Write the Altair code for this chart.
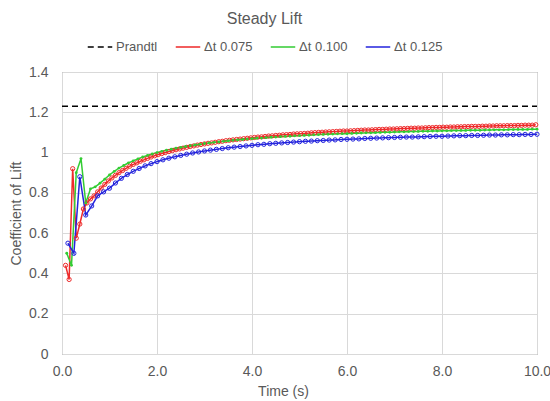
import altair as alt
import pandas as pd

# ---- data ----
prandtl_value = 1.23
x_range = [0.0, 10.0]

dt_red = 0.075
red_vals = [0.44, 0.37, 0.92, 0.575, 0.645, 0.72, 0.75, 0.77, 0.785, 0.805,
            0.824, 0.842, 0.859, 0.874, 0.887, 0.900, 0.911, 0.922, 0.932, 0.941,
            0.949, 0.957, 0.964, 0.971, 0.978, 0.984, 0.990, 0.995, 1.000, 1.005,
            1.010, 1.014, 1.018, 1.022, 1.026, 1.030, 1.033, 1.037, 1.040, 1.043,
            1.046, 1.048, 1.051, 1.054, 1.056, 1.059, 1.061, 1.063, 1.065, 1.067,
            1.069, 1.071, 1.073, 1.075, 1.077, 1.078, 1.080, 1.082, 1.083, 1.085,
            1.086, 1.088, 1.089, 1.090, 1.092, 1.093, 1.094, 1.095, 1.096, 1.098,
            1.099, 1.100, 1.101, 1.102, 1.103, 1.104, 1.105, 1.106, 1.107, 1.107,
            1.108, 1.109, 1.110, 1.111, 1.112, 1.112, 1.113, 1.114, 1.115, 1.115,
            1.116, 1.117, 1.117, 1.118, 1.119, 1.119, 1.120, 1.121, 1.121, 1.122,
            1.122, 1.123, 1.124, 1.124, 1.125, 1.125, 1.126, 1.126, 1.127, 1.127,
            1.128, 1.128, 1.129, 1.129, 1.130, 1.130, 1.130, 1.131, 1.131, 1.132,
            1.132, 1.133, 1.133, 1.133, 1.134, 1.134, 1.134, 1.135, 1.135, 1.136,
            1.136, 1.136, 1.138]

dt_green = 0.100
green_vals = [0.50, 0.44, 0.90, 0.97, 0.75, 0.82, 0.83, 0.848, 0.868, 0.889,
              0.907, 0.923, 0.936, 0.949, 0.959, 0.969, 0.978, 0.986, 0.993, 1.000,
              1.006, 1.012, 1.017, 1.022, 1.026, 1.030, 1.034, 1.038, 1.041, 1.045,
              1.048, 1.051, 1.053, 1.056, 1.058, 1.061, 1.063, 1.065, 1.067, 1.069,
              1.071, 1.072, 1.074, 1.076, 1.077, 1.079, 1.080, 1.081, 1.083, 1.084,
              1.085, 1.086, 1.088, 1.089, 1.090, 1.091, 1.092, 1.093, 1.094, 1.094,
              1.095, 1.096, 1.097, 1.098, 1.098, 1.099, 1.100, 1.101, 1.101, 1.102,
              1.103, 1.103, 1.104, 1.104, 1.105, 1.106, 1.106, 1.107, 1.107, 1.108,
              1.108, 1.109, 1.109, 1.110, 1.110, 1.111, 1.111, 1.111, 1.112, 1.112,
              1.113, 1.113, 1.113, 1.114, 1.114, 1.115, 1.115, 1.115, 1.116, 1.116]

dt_blue = 0.125
blue_vals = [0.55, 0.50, 0.88, 0.69, 0.735, 0.785, 0.805, 0.823, 0.849, 0.872,
             0.891, 0.907, 0.921, 0.934, 0.945, 0.955, 0.964, 0.972, 0.979, 0.986,
             0.992, 0.998, 1.003, 1.008, 1.012, 1.016, 1.020, 1.024, 1.027, 1.030,
             1.033, 1.036, 1.039, 1.041, 1.044, 1.046, 1.048, 1.050, 1.052, 1.054,
             1.056, 1.057, 1.059, 1.060, 1.062, 1.063, 1.065, 1.066, 1.067, 1.068,
             1.070, 1.071, 1.072, 1.073, 1.074, 1.075, 1.076, 1.077, 1.077, 1.078,
             1.079, 1.080, 1.081, 1.081, 1.082, 1.083, 1.084, 1.084, 1.085, 1.085,
             1.086, 1.087, 1.087, 1.088, 1.088, 1.089, 1.089, 1.090, 1.090, 1.091]

series_names = ["Prandtl", "\u0394t 0.075", "\u0394t 0.100", "\u0394t 0.125"]
series_colors = ["#000000", "#ee2a2a", "#33cc33", "#2424dd"]

rows = []
for xv in x_range:
    rows.append({"series": series_names[0], "time": xv, "cl": prandtl_value})
for name, dt, vals in [(series_names[1], dt_red, red_vals),
                       (series_names[2], dt_green, green_vals),
                       (series_names[3], dt_blue, blue_vals)]:
    for i, v in enumerate(vals):
        rows.append({"series": name, "time": round(dt * (i + 1), 4), "cl": v})
df = pd.DataFrame(rows)

FONT = "Liberation Sans"
GREY = "#595959"

x_enc = alt.X("time:Q", scale=alt.Scale(domain=[0, 10], nice=False),
              axis=alt.Axis(title="Time (s)", values=[0, 2, 4, 6, 8, 10], format=".1f",
                            grid=True, gridColor="#d9d9d9", ticks=False, domain=False,
                            labelFlush=False,
                            labelPadding=10, titlePadding=6, labelFontSize=14, titleFontSize=14,
                            labelColor=GREY, titleColor=GREY, labelFont=FONT, titleFont=FONT,
                            titleFontWeight="normal", titleX=221))
y_enc = alt.Y("cl:Q", scale=alt.Scale(domain=[0, 1.4], nice=False),
              axis=alt.Axis(title="Coefficient of Lift", values=[0, 0.2, 0.4, 0.6, 0.8, 1.0, 1.2, 1.4],
                            format="~g", grid=True, gridColor="#d9d9d9", ticks=False, domain=False,
                            labelFlush=False,
                            labelPadding=14, titlePadding=5, labelFontSize=14, titleFontSize=14,
                            labelColor=GREY, titleColor=GREY, labelFont=FONT, titleFont=FONT,
                            titleFontWeight="normal"))

color_enc = alt.Color("series:N", scale=alt.Scale(domain=series_names, range=series_colors),
                      title=None,
                      legend=alt.Legend(orient="none", legendX=25, legendY=-38, direction="horizontal",
                                        symbolType="stroke", symbolSize=600, symbolStrokeWidth=1.5,
                                        labelFontSize=13, labelFont=FONT, labelColor=GREY,
                                        columnPadding=14, labelOffset=3))
dash_enc = alt.StrokeDash("series:N", scale=alt.Scale(domain=series_names,
                                                      range=[[6, 4], [1, 0], [1, 0], [1, 0]]),
                          title=None)

lines = alt.Chart(df).mark_line(strokeWidth=1.5).encode(
    x=x_enc, y=y_enc, color=color_enc, strokeDash=dash_enc, order="time:Q")

pt_layers = []
for name, col, filled, size in [(series_names[1], series_colors[1], False, 18),
                                (series_names[2], series_colors[2], True, 8),
                                (series_names[3], series_colors[3], False, 18)]:
    pt_layers.append(
        alt.Chart(df).transform_filter(alt.datum.series == name).mark_point(
            filled=filled, size=size, strokeWidth=1, color=col,
            opacity=1).encode(x=alt.X("time:Q"), y=alt.Y("cl:Q")))

chart = alt.layer(lines, *pt_layers).properties(
    width=475, height=282,
    padding={"left": 62, "top": 72, "right": 13, "bottom": 47},
    autosize=alt.AutoSizeParams(type="none"),
    title=alt.TitleParams("Steady Lift", fontSize=16, font=FONT, color=GREY, fontWeight="normal",
                          anchor="middle", dx=-35, offset=7),
    background="white",
).configure_view(stroke="#808080", strokeWidth=1)

chart.save("out.html", embed_options={"renderer": "svg", "actions": False})
